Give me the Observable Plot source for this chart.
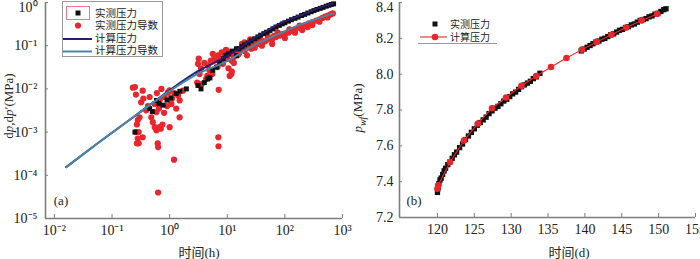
<!DOCTYPE html>
<html><head><meta charset="utf-8">
<script src="https://cdn.jsdelivr.net/npm/d3@7"></script>
<script src="https://cdn.jsdelivr.net/npm/@observablehq/plot@0.6"></script>
<style>
body{margin:0;background:#fff;}
#wrap{position:relative;width:700px;height:259px;overflow:hidden;}
#wrap svg.plot{position:absolute;top:0;}
.lab{position:absolute;font-family:"Liberation Serif","Noto Sans CJK SC",serif;font-size:13px;color:#222;white-space:nowrap;}
.rot{transform:translate(-50%,-50%) rotate(-90deg);}
.ctr{transform:translate(-50%,-50%);}
</style></head><body><div id="wrap"></div>
<script>
// ---------- Panel (a) data ----------
const xTicksA = [1e-2, 1e-1, 1, 10, 100, 1000];
const yTicksA = [1e-5, 1e-4, 1e-3, 1e-2, 1e-1, 1];

const measTimeA = [0.25,0.45,0.5,0.59,0.65,0.77,0.9,1.05,1.3,1.5,1.95,3.1,3.5,4.0,4.6,5.0,5.6,6.5,7.4,8.5,9.5,10.5,12,14.4,14.4,16,18,20,23,26,30,34,38,43,48,55,62,70,80,90,100,115,130,150,170,195,220,250,285,320,360,410,460,520,580,640,700];
const measValA  = [1.0e-3,3.5e-3,3.0e-3,5.4e-3,4.6e-3,4.2e-3,5.5e-3,6.2e-3,7.8e-3,8.8e-3,1.0e-2,1.2e-2,1.0e-2,1.4e-2,1.7e-2,1.8e-2,2.7e-2,3.2e-2,4.0e-2,5.0e-2,6.0e-2,6.5e-2,7.5e-2,5.9e-2,8.5e-2,8.5e-2,9.5e-2,0.105,0.115,0.13,0.145,0.16,0.175,0.19,0.205,0.225,0.245,0.27,0.295,0.32,0.34,0.37,0.40,0.43,0.46,0.50,0.53,0.57,0.61,0.65,0.69,0.73,0.77,0.82,0.86,0.90,0.93];

const derivTimeA = [0.25,0.34,0.26,0.32,0.39,0.30,0.26,0.34,0.28,0.48,0.59,0.67,0.59,0.51,0.72,0.82,0.94,1.07,1.3,1.49,1.7,1.49,1.0,0.63,0.62,0.63,1.19,7.0,7.05,7.1,
 0.28,0.27,0.29,0.29,0.27,0.55,0.7,0.75,0.35,0.42,0.45,0.55,0.65,0.8,0.9,1.1,1.2,1.4,0.6,0.23,0.67,1.0,
 3.1,3.3,4.3,4.9,6.5,5.6,8.4,3.2,3.5,4.0,4.6,5.2,6.0,7.0,7.5,9.0,3.0,3.6,4.5,5.5,8.0,9.5,6.8,
 11.8,11.0,12,13,14.4,16,18.7,10,10.5,11,12,13,15,16,
 20,22,24,26,28,32,36,40,45,50,55,60,70,80,90,100,115,130,150,170,200,230,260,300,350,400,450,500,560,620,680,
 30,40,60,100,150,200,300,25,50,20,35,65,120,180,250,400,550,22,18,75];
const derivValA = [1.1e-2,9.1e-3,7.4e-3,4.9e-3,3.2e-3,2.2e-3,1.0e-3,7.6e-4,7.1e-4,2.2e-3,2.9e-3,1.3e-3,1.1e-3,1.7e-3,1.0e-2,6.5e-3,8.3e-3,4.5e-3,3.5e-3,5.4e-3,9.1e-3,2.2e-3,1.3e-3,4.5e-4,5.5e-4,4e-5,2.3e-4,7.6e-4,4.7e-4,9.5e-3,
 1.9e-3,1.5e-3,1.0e-3,5.5e-4,5.5e-4,1.3e-3,1.2e-3,1.5e-3,6e-3,4e-3,6.5e-3,4.5e-3,3.5e-3,2.8e-3,4e-3,6e-3,8e-3,7e-3,8e-3,1.07e-2,5.4e-3,9.2e-3,
 3.8e-2,2.2e-2,1.7e-2,2.7e-2,4.6e-2,6.5e-2,3.8e-2,5e-2,3.0e-2,4.0e-2,3.5e-2,4.5e-2,5.5e-2,6.0e-2,4.4e-2,5.5e-2,1.4e-2,1.3e-2,2.0e-2,2.2e-2,7e-2,8e-2,3.2e-2,
 2.2e-2,6.5e-2,4.5e-2,5.5e-2,7.8e-2,6.5e-2,9.3e-2,5e-2,3e-2,2e-2,2.5e-2,4e-2,6e-2,7e-2,
 0.075,0.09,0.11,0.085,0.10,0.12,0.11,0.13,0.125,0.14,0.15,0.14,0.16,0.17,0.185,0.19,0.20,0.22,0.24,0.26,0.28,0.30,0.33,0.35,0.38,0.41,0.44,0.47,0.50,0.53,0.56,
 0.09,0.10,0.11,0.15,0.20,0.23,0.30,0.14,0.18,0.12,0.15,0.17,0.24,0.29,0.27,0.36,0.45,0.06,0.11,0.20];

const calcTimeA = [0.016,0.05,0.2,0.5,1,3,10,30,80,200,400,680];
const calcPressA = [1.55e-4,4.9e-4,1.9e-3,4.7e-3,9.3e-3,2.5e-2,5.8e-2,0.15,0.32,0.52,0.76,0.95];
const calcDerivA = [1.55e-4,4.9e-4,1.9e-3,4.7e-3,8.9e-3,2.2e-2,4.4e-2,0.105,0.19,0.32,0.44,0.56];

// ---------- Panel (b) data ----------
const xTicksB = [120,125,130,135,140,145,150,155];
const yTicksB = [7.2,7.4,7.6,7.8,8.0,8.2,8.4];
const measTimeB = [120.0,120.05,120.1,120.2,120.35,120.5,120.7,120.9,121.1,121.4,121.7,122.0,122.3,122.6,123.0,123.4,123.8,124.2,124.6,125.0,125.4,125.8,126.2,126.6,127.0,127.4,127.8,128.2,128.6,129.0,129.4,129.8,130.2,130.6,131.0,131.4,131.8,132.2,132.6,133.0,133.4,133.9,
 139.5,139.9,140.3,140.7,141.1,141.5,141.9,142.3,142.7,143.1,143.5,143.9,144.3,144.7,145.1,145.5,145.9,146.3,146.7,147.1,147.5,147.9,148.3,148.7,149.1,149.5,149.9,150.3,150.7,151.0];
const measPressB = [7.34,7.36,7.37,7.39,7.41,7.42,7.44,7.46,7.475,7.495,7.51,7.53,7.55,7.565,7.59,7.61,7.635,7.655,7.675,7.695,7.715,7.73,7.745,7.76,7.78,7.795,7.81,7.82,7.835,7.85,7.86,7.875,7.89,7.90,7.915,7.93,7.94,7.95,7.96,7.975,7.985,8.005,
 8.13,8.14,8.15,8.16,8.17,8.18,8.185,8.195,8.20,8.21,8.22,8.225,8.235,8.245,8.25,8.26,8.265,8.275,8.28,8.29,8.30,8.305,8.31,8.32,8.325,8.335,8.34,8.35,8.36,8.365];
const calcTimeB = [120.0,120.1,121.7,123.6,125.5,127.4,129.3,131.4,133.4,135.4,137.5,139.6,141.6,143.6,145.6,147.7,149.8];
const calcPressB = [7.36,7.38,7.51,7.63,7.725,7.81,7.87,7.935,7.99,8.04,8.09,8.137,8.18,8.22,8.26,8.30,8.336];

// ---------- styles ----------
const RED = "#e8262b", NAVY = "#2a1c72", TEAL = "#4a86a3", AX = "#7d7d7d", TXT = "#222";
const NUMFONT = "Liberation Serif, serif";
const FS = 14;
const sup = {"-":"⁻","0":"⁰","1":"¹","2":"²","3":"³","4":"⁴","5":"⁵"};
const pow10 = d => "10" + String(Math.round(Math.log10(d))).split("").map(c => sup[c]).join("");

const wrap = document.getElementById("wrap");

// ---------- Panel (a) ----------
const measA = measTimeA.map((t,i) => ({t, v: measValA[i]}));
const derivA = derivTimeA.map((t,i) => ({t, v: derivValA[i]}));
const calcA = calcTimeA.map((t,i) => ({t, p: calcPressA[i], d: calcDerivA[i]}));
const xDomA = [0.007, 1000];

const plotA = Plot.plot({
  width: 350, height: 259,
  marginLeft: 45, marginRight: 8, marginTop: 2, marginBottom: 41,
  style: {fontFamily: NUMFONT, fontSize: FS + "px", color: TXT, background: "transparent", overflow: "visible"},
  x: {type: "log", domain: xDomA},
  y: {type: "log", domain: [1e-5, 1]},
  marks: [
    Plot.dot(derivA, {x: "t", y: "v", r: 3.1, fill: RED}),
    Plot.dot(measA, {x: "t", y: "v", r: 2.8, symbol: "square", fill: "#111"}),
    Plot.line(calcA, {x: "t", y: "p", stroke: NAVY, strokeWidth: 2, curve: "monotone-x"}),
    Plot.line(calcA, {x: "t", y: "d", stroke: TEAL, strokeWidth: 2, curve: "monotone-x"}),
    Plot.ruleX([xDomA[0]], {stroke: AX, strokeWidth: 1.6}),
    Plot.ruleY([1e-5], {stroke: AX, strokeWidth: 1.6}),
    Plot.axisX({ticks: xTicksA, tickSize: -4, tickPadding: 11, tickFormat: pow10, stroke: AX, fill: TXT, fontSize: FS, label: null}),
    Plot.axisY({ticks: yTicksA, tickSize: -3, tickFormat: () => "", stroke: AX, label: null}),
    Plot.axisY({ticks: yTicksA.slice(0, -1), tickSize: 0, tickPadding: 8, tickFormat: pow10, fill: TXT, fontSize: FS, label: null}),
    Plot.axisY({ticks: yTicksA.slice(-1), tickSize: 0, tickPadding: 8, tickFormat: pow10, fill: TXT, fontSize: FS, dy: 5, label: null})
  ]
});
plotA.classList.add("plot");
plotA.style.left = "0px";
wrap.appendChild(plotA);

// ---------- Panel (b) ----------
const measB = measTimeB.map((t,i) => ({t, p: measPressB[i]}));
const calcB = calcTimeB.map((t,i) => ({t, p: calcPressB[i]}));
const xDomB = [114.85, 155];
const plotB = Plot.plot({
  width: 350, height: 259,
  marginLeft: 49, marginRight: 5, marginTop: 2, marginBottom: 42,
  style: {fontFamily: NUMFONT, fontSize: FS + "px", color: TXT, background: "transparent"},
  x: {domain: xDomB},
  y: {domain: [7.2, 8.4]},
  marks: [
    Plot.dot(measB, {x: "t", y: "p", r: 3, symbol: "square", fill: "#111"}),
    Plot.line(calcB, {x: "t", y: "p", stroke: RED, strokeWidth: 1.1}),
    Plot.dot(calcB, {x: "t", y: "p", r: 3.3, fill: RED}),
    Plot.ruleX([xDomB[0]], {stroke: AX, strokeWidth: 1.6}),
    Plot.ruleY([7.2], {stroke: AX, strokeWidth: 1.6}),
    Plot.axisX({ticks: xTicksB, tickSize: -4, tickPadding: 11, tickFormat: d3.format("d"), stroke: AX, fill: TXT, fontSize: FS, label: null}),
    Plot.axisY({ticks: yTicksB, tickSize: -3, tickFormat: () => "", stroke: AX, label: null}),
    Plot.axisY({ticks: yTicksB.slice(0, -1), tickSize: 0, tickPadding: 6, tickFormat: d3.format(".1f"), fill: TXT, fontSize: FS, label: null}),
    Plot.axisY({ticks: yTicksB.slice(-1), tickSize: 0, tickPadding: 6, tickFormat: d3.format(".1f"), fill: TXT, fontSize: FS, dy: 5, label: null})
  ]
});
plotB.classList.add("plot");
plotB.style.left = "350px";
wrap.appendChild(plotB);

// ---------- axis titles & panel tags ----------
function label(html, x, y, cls) {
  const d = document.createElement("div");
  d.className = "lab " + cls;
  d.style.left = x + "px"; d.style.top = y + "px";
  d.innerHTML = html;
  wrap.appendChild(d);
}
label('d<i>p</i>,d<i>p</i>′(MPa)', 9, 106, "rot");
label('<i>p</i><sub style="font-size:10px;font-style:italic">wf</sub>(MPa)', 359, 108, "rot");
label('时间(h)', 199, 251, "ctr");
label('时间(d)', 569, 251, "ctr");
label('(a)', 61, 201, "ctr");
label('(b)', 414, 201, "ctr");

// ---------- legends ----------
const lg = d3.select(wrap).append("svg")
  .attr("width", 700).attr("height", 259)
  .style("position", "absolute").style("left", "0px").style("top", "0px").style("pointer-events", "none");
const CNF = "Noto Sans CJK SC, sans-serif";
// legend (a)
lg.append("rect").attr("x", 62.5).attr("y", 1.5).attr("width", 100).attr("height", 55).attr("fill", "white").attr("stroke", "#9a9a9a").attr("stroke-width", 1);
lg.append("rect").attr("x", 66.5).attr("y", 6.5).attr("width", 23).attr("height", 13).attr("fill", "none").attr("stroke", "#f07a8a").attr("stroke-width", 1);
lg.append("rect").attr("x", 75.5).attr("y", 10.5).attr("width", 5).attr("height", 5).attr("fill", "#111");
lg.append("circle").attr("cx", 78).attr("cy", 25.5).attr("r", 3.1).attr("fill", RED);
lg.append("line").attr("x1", 63).attr("x2", 92).attr("y1", 39).attr("y2", 39).attr("stroke", NAVY).attr("stroke-width", 2);
lg.append("line").attr("x1", 63).attr("x2", 92).attr("y1", 51.5).attr("y2", 51.5).attr("stroke", TEAL).attr("stroke-width", 2);
const legA = ["实测压力", "实测压力导数", "计算压力", "计算压力导数"];
const legAy = [13, 25.5, 38, 50.5];
legA.forEach((s, i) => lg.append("text").attr("x", 95).attr("y", legAy[i]).attr("dy", "0.35em")
  .attr("font-family", CNF).attr("font-size", 10.5).attr("fill", "#222").text(s));
// legend (b)
lg.append("line").attr("x1", 418).attr("x2", 497).attr("y1", 43.5).attr("y2", 43.5).attr("stroke", "#9a9a9a");
lg.append("rect").attr("x", 432.5).attr("y", 21.5).attr("width", 5).attr("height", 5).attr("fill", "#111");
lg.append("line").attr("x1", 420).attr("x2", 447).attr("y1", 37).attr("y2", 37).attr("stroke", RED).attr("stroke-width", 1.1);
lg.append("circle").attr("cx", 435).attr("cy", 37).attr("r", 3.3).attr("fill", RED);
const legB = ["实测压力", "计算压力"];
const legBy = [24, 37];
legB.forEach((s, i) => lg.append("text").attr("x", 450).attr("y", legBy[i]).attr("dy", "0.35em")
  .attr("font-family", CNF).attr("font-size", 10).attr("fill", "#222").text(s));
</script></body></html>
